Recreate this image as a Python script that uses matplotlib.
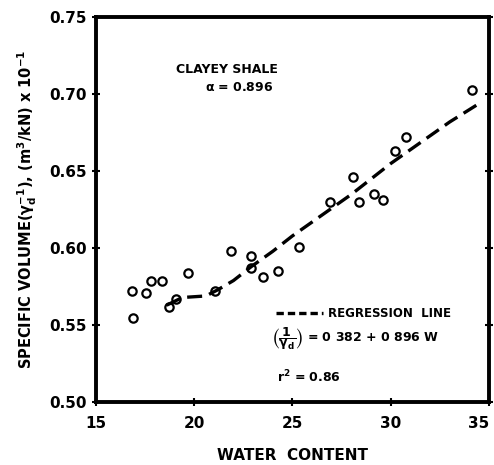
import matplotlib
matplotlib.use("Agg")
from matplotlib import pyplot as plt

# measured points (water content, specific volume)
water = [16.83, 16.9, 17.54, 17.83, 18.37, 18.72, 19.1, 19.67, 21.04, 21.9,
         22.88, 22.9, 23.49, 24.29, 25.32, 26.9, 28.06, 28.4, 29.14, 29.6,
         30.24, 30.8, 34.15]
spec_vol = [0.572, 0.555, 0.571, 0.579, 0.579, 0.562, 0.567, 0.584, 0.572, 0.598,
            0.595, 0.587, 0.581, 0.585, 0.601, 0.630, 0.646, 0.630, 0.635, 0.631,
            0.663, 0.672, 0.703]

# regression line as traced
reg_x = [18.6, 19.4, 20.6, 21.2, 22.0, 22.9, 24.0, 25.0, 26.0, 27.0, 28.0,
         29.0, 30.0, 31.0, 32.0, 33.0, 34.5]
reg_y = [0.563, 0.568, 0.569, 0.573, 0.579, 0.588, 0.598, 0.608, 0.617, 0.626,
         0.635, 0.645, 0.655, 0.664, 0.673, 0.682, 0.694]

xticks = [15, 20, 25, 30, 35]
yticks = [0.50, 0.55, 0.60, 0.65, 0.70, 0.75]
ytick_labels = ['0.50', '0.55', '0.60', '0.65', '0.70', '0.75']

plt.rcParams['font.family'] = 'DejaVu Sans'
plt.rcParams['font.weight'] = 'bold'
plt.rcParams['mathtext.default'] = 'bf'

fig = plt.figure(figsize=(4.94, 4.65), dpi=100)
ax = fig.add_axes([0.194, 0.135, 0.796, 0.828])

ax.plot(water, spec_vol, 'o', mfc='white', mec='black', ms=6, mew=1.6)
ax.plot(reg_x, reg_y, color='black', lw=2.4, dashes=(4.5, 2.2))

ax.set_xlim(15, 35)
ax.set_ylim(0.50, 0.75)
ax.set_xticks(xticks)
ax.set_xticklabels([str(t) for t in xticks])
ax.set_yticks(yticks)
ax.set_yticklabels(ytick_labels)
ax.tick_params(direction='inout', length=6, width=1.5, labelsize=11, right=True)
ax.tick_params(axis='x', pad=7)
ax.get_xticklabels()[-1].set_horizontalalignment('right')
for s in ax.spines.values():
    s.set_linewidth(2.8)

ax.set_xlabel('WATER  CONTENT', fontsize=11, fontweight='bold', labelpad=12)
ax.set_ylabel(r'SPECIFIC VOLUME($\gamma_d^{-1}$), (m$^3$/kN) x 10$^{-1}$',
              fontsize=10.5, fontweight='bold', labelpad=7)

ax.text(0.333, 0.865, 'CLAYEY SHALE', transform=ax.transAxes, ha='center',
        va='center', fontsize=9, fontweight='bold')
ax.text(0.365, 0.818, r'$\alpha$ = 0.896', transform=ax.transAxes, ha='center',
        va='center', fontsize=9, fontweight='bold')

# legend drawn by hand
ax.plot([24.15, 26.55], [0.5578, 0.5578], color='black', lw=2.4, dashes=(2.2, 1.2))
ax.text(26.8, 0.5578, 'REGRESSION  LINE', ha='left', va='center',
        fontsize=8.5, fontweight='bold')
ax.text(23.98, 0.5416, r'$\left(\dfrac{1}{\gamma_d}\right)$ = 0 382 + 0 896 W',
        ha='left', va='center', fontsize=9, fontweight='bold')
ax.text(24.2, 0.5162, r'r$^2$ = 0.86', ha='left', va='center',
        fontsize=9, fontweight='bold')

fig.savefig('out.png', dpi=100)
